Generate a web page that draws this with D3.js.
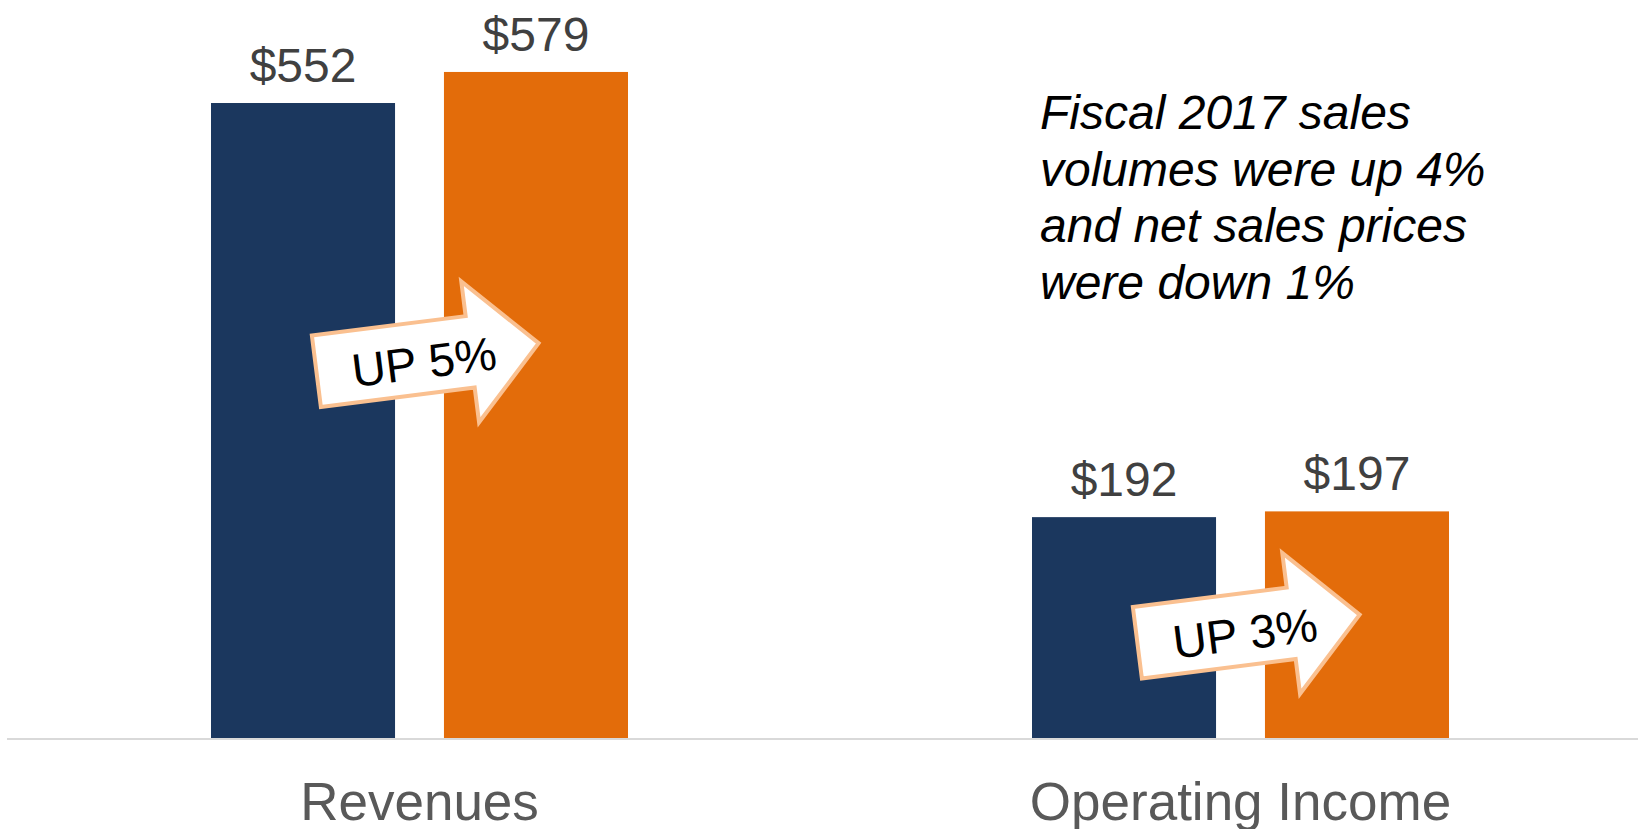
<!DOCTYPE html>
<html>
<head>
<meta charset="utf-8">
<script src="https://cdn.jsdelivr.net/npm/d3@7"></script>
<style>
  html, body { margin: 0; padding: 0; background: #fff; }
  svg { display: block; font-family: "Liberation Sans", Arial, sans-serif; }
</style>
</head>
<body>
<div id="chart"></div>
<script>
const svgWidth = 1638,
    svgHeight = 829,
    baseY = 738;

// data
const categories = ["Revenues", "Operating Income"];
const series = ["Fiscal 2016", "Fiscal 2017"];
const values2016 = [552, 192];
const values2017 = [579, 197];
const seriesColors = ["#1b375e", "#e36c0a"];

// change arrows (value = vertical position on the value axis)
const arrowLabels = ["UP 5%", "UP 3%"];
const arrowLevels = [331, 95];

const noteLines = [
    "Fiscal 2017 sales",
    "volumes were up 4%",
    "and net sales prices",
    "were down 1%"
];

let data = categories.map((c, i) => ({
    cat: c,
    vals: [
        { s: series[0], v: values2016[i] },
        { s: series[1], v: values2017[i] }
    ]
}));

let svg = d3.select("#chart").append("svg")
    .attr("width", svgWidth)
    .attr("height", svgHeight);

// scales
let xScale = d3.scaleBand()
    .domain(categories)
    .range([9, 1651])
    .padding(0);
let xSub = d3.scaleBand()
    .domain(series)
    .range([202, 619])
    .paddingInner(0.21);
let yScale = d3.scaleLinear()
    .domain([0, 600])
    .range([baseY, baseY - 690.2]);

// bars
let groups = svg.selectAll("g.group")
    .data(data)
    .join("g")
    .attr("class", "group")
    .attr("transform", (d) => `translate(${xScale(d.cat)},0)`);

groups.selectAll("rect")
    .data((d) => d.vals)
    .join("rect")
    .attr("x", (d) => xSub(d.s))
    .attr("y", (d) => yScale(d.v))
    .attr("width", xSub.bandwidth())
    .attr("height", (d) => baseY - yScale(d.v))
    .attr("fill", (d, i) => seriesColors[i]);

groups.selectAll("text.value")
    .data((d) => d.vals)
    .join("text")
    .attr("class", "value")
    .attr("x", (d) => xSub(d.s) + xSub.bandwidth() / 2)
    .attr("y", (d) => yScale(d.v) - 21)
    .attr("text-anchor", "middle")
    .attr("font-size", 48)
    .attr("fill", "#404040")
    .text((d) => "$" + d.v);

// axis line
svg.append("line")
    .attr("x1", 7)
    .attr("x2", svgWidth)
    .attr("y1", baseY + 1)
    .attr("y2", baseY + 1)
    .attr("stroke", "#d9d9d9")
    .attr("stroke-width", 2);

// category labels (bottom cut by the frame, as in the original)
svg.selectAll("text.cat")
    .data(categories)
    .join("text")
    .attr("class", "cat")
    .attr("x", (d) => xScale(d) + xScale.bandwidth() / 2)
    .attr("y", 820)
    .attr("text-anchor", "middle")
    .attr("font-size", 53)
    .attr("fill", "#595959")
    .text((d) => d);

// block arrows
const arrowShape = [[-112, -36], [43, -36], [43, -71], [112, 0], [43, 71], [43, 36], [-112, 36]];
let arrows = svg.selectAll("g.arrow")
    .data(categories)
    .join("g")
    .attr("class", "arrow")
    .attr("transform", (d, i) =>
        `translate(${xScale(d) + xScale.bandwidth() / 2 + 8},${yScale(arrowLevels[i])}) rotate(-7.2)`);

arrows.append("path")
    .attr("d", d3.line()(arrowShape) + "Z")
    .attr("fill", "#fff")
    .attr("stroke", "#fac090")
    .attr("stroke-width", 4)
    .attr("stroke-linejoin", "miter");

arrows.append("text")
    .attr("x", -4)
    .attr("y", 4)
    .attr("dy", "0.35em")
    .attr("text-anchor", "middle")
    .attr("font-size", 47)
    .attr("fill", "#000")
    .text((d, i) => arrowLabels[i]);

// side note
svg.append("text")
    .attr("font-style", "italic")
    .attr("font-size", 48)
    .attr("fill", "#000")
    .selectAll("tspan")
    .data(noteLines)
    .join("tspan")
    .attr("x", 1040)
    .attr("y", (d, i) => 129 + i * 56.5)
    .text((d) => d);
</script>
</body>
</html>
